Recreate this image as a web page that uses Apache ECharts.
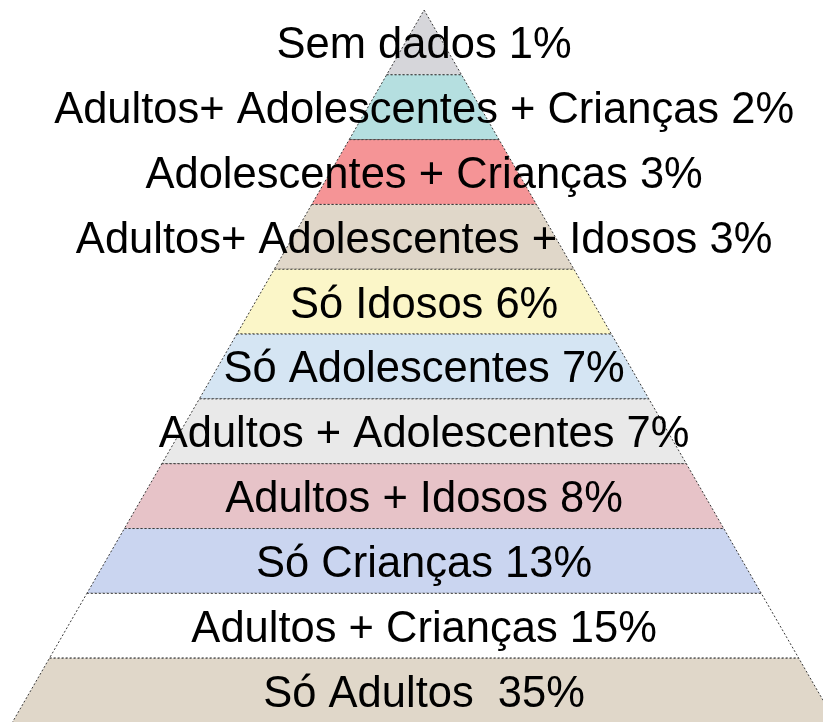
<!DOCTYPE html>
<html>
<head>
<meta charset="utf-8">
<script src="https://cdn.jsdelivr.net/npm/echarts@6/dist/echarts.min.js"></script>
<style>
  html, body { margin: 0; padding: 0; background: #fff; }
  #main { width: 823px; height: 722px; }
</style>
</head>
<body>
<div id="main"></div>
<script>
  // pyramid bands, top to bottom
  const categories = [
    'Sem dados',
    'Adultos+ Adolescentes + Crianças',
    'Adolescentes + Crianças',
    'Adultos+ Adolescentes + Idosos',
    'Só Idosos',
    'Só Adolescentes',
    'Adultos + Adolescentes',
    'Adultos + Idosos',
    'Só Crianças',
    'Adultos + Crianças',
    'Só Adultos ',
  ]
  const percentages = [1, 2, 3, 3, 6, 7, 7, 8, 13, 15, 35]
  const bandColors = [
    '#d6d6da', '#b5dfe0', '#f59496', '#e0d7c9', '#fbf6c8', '#d5e5f3',
    '#e9e9e9', '#e7c3c8', '#cad5f0', '#ffffff', '#e0d7c9',
  ]

  const chart = echarts.init(document.getElementById('main'))
  const n = categories.length

  function renderItem(params, api) {
    const i = params.dataIndex
    const top = api.value(0)
    const bottom = top + 1
    const wTop = top / n
    const wBot = bottom / n
    const pts = [
      api.coord([-wTop, top]),
      api.coord([wTop, top]),
      api.coord([wBot, bottom]),
      api.coord([-wBot, bottom]),
    ]
    const mid = api.coord([0, top + 0.5])
    return {
      type: 'group',
      children: [
        {
          type: 'polygon',
          shape: { points: pts },
          style: {
            fill: bandColors[i],
            stroke: '#3a3a3a',
            lineWidth: 1,
            lineDash: [2, 2],
          },
        },
        {
          type: 'text',
          z2: 10,
          style: {
            text: categories[i] + ' ' + api.value(1) + '%',
            x: mid[0],
            y: mid[1] + 4,
            align: 'center',
            verticalAlign: 'middle',
            fontSize: 43.5,
            fontFamily: 'Liberation Sans, Arial, sans-serif',
            fill: '#000',
          },
        },
      ],
    }
  }

  // the right corner and the base of the pyramid fall just outside the picture
  chart.setOption({
    animation: false,
    grid: { left: 12, right: 0, top: 10, bottom: 0 },
    xAxis: { type: 'value', min: -1, max: 0.968, show: false },
    yAxis: { type: 'value', min: 0, max: 10.985, inverse: true, show: false },
    series: [
      {
        type: 'custom',
        renderItem: renderItem,
        clip: false,
        data: percentages.map((v, i) => [i, v]),
      },
    ],
  })
</script>
</body>
</html>
